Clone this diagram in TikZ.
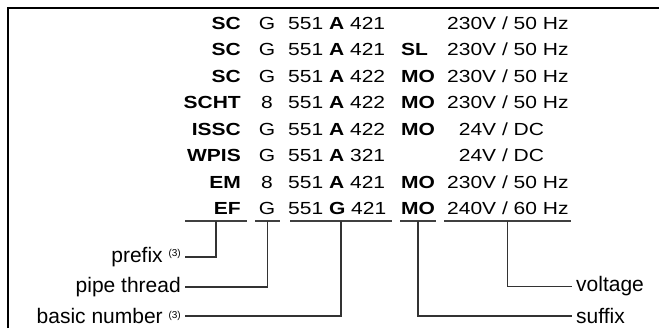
\documentclass[tikz,border=0pt]{standalone}
\usepackage{fontspec}
\setmainfont{Liberation Sans}
\newfontfamily\rowfont[FakeStretch=1.2]{Liberation Sans}
\usepackage{xcolor}
\usepackage{tikz}
\usetikzlibrary{positioning}

\newcommand{\rowsize}{\rowfont\fontsize{17.5bp}{19bp}\selectfont}
\newcommand{\volt}[2]{\llap{#1\ }/\rlap{\ #2}}
\newcommand{\fnote}{\raisebox{5.5bp}{\fontsize{10bp}{10bp}\selectfont(3)}}

\begin{document}
\begin{tikzpicture}[
    x=1bp, y=-1bp,
    cell/.style={inner sep=0pt, font=\rowsize},
    prefixcell/.style={cell, anchor=base east, font=\rowsize\bfseries},
    threadcell/.style={cell, anchor=base},
    basiccell/.style={cell, anchor=base west},
    suffixcell/.style={cell, anchor=base west, font=\rowsize\bfseries},
    voltcell/.style={cell, anchor=base},
    lbl/.style={inner sep=4bp, font=\fontsize{21bp}{23bp}\selectfont},
    uline/.style={draw=black!75, line width=1.3bp},
    conn/.style={draw=black!80, line width=1.3bp},
    frame/.style={draw=black, line width=2bp},
]
    \useasboundingbox (0,0) rectangle (659,328);
    \draw[frame] (8.3,328) |- (659,7.7);

    % code table
    \node[prefixcell] (pre1) at (241,29) {SC};
    \node[threadcell] (thr1) at (267,29) {G};
    \node[basiccell] (bas1) at (288,29) {551 \textbf{A} 421};
    \node[voltcell] (vol1) at (505,29) {\volt{230V}{50 Hz}};

    \node[prefixcell] (pre2) at (241,55.5) {SC};
    \node[threadcell] (thr2) at (267,55.5) {G};
    \node[basiccell] (bas2) at (288,55.5) {551 \textbf{A} 421};
    \node[suffixcell] (suf2) at (401,55.5) {SL};
    \node[voltcell] (vol2) at (505,55.5) {\volt{230V}{50 Hz}};

    \node[prefixcell] (pre3) at (241,82) {SC};
    \node[threadcell] (thr3) at (267,82) {G};
    \node[basiccell] (bas3) at (288,82) {551 \textbf{A} 422};
    \node[suffixcell] (suf3) at (401,82) {MO};
    \node[voltcell] (vol3) at (505,82) {\volt{230V}{50 Hz}};

    \node[prefixcell] (pre4) at (241,108.5) {SCHT};
    \node[threadcell] (thr4) at (267,108.5) {8};
    \node[basiccell] (bas4) at (288,108.5) {551 \textbf{A} 422};
    \node[suffixcell] (suf4) at (401,108.5) {MO};
    \node[voltcell] (vol4) at (505,108.5) {\volt{230V}{50 Hz}};

    \node[prefixcell] (pre5) at (241,135) {ISSC};
    \node[threadcell] (thr5) at (267,135) {G};
    \node[basiccell] (bas5) at (288,135) {551 \textbf{A} 422};
    \node[suffixcell] (suf5) at (401,135) {MO};
    \node[voltcell] (vol5) at (505,135) {\volt{24V}{DC}};

    \node[prefixcell] (pre6) at (241,161.5) {WPIS};
    \node[threadcell] (thr6) at (267,161.5) {G};
    \node[basiccell] (bas6) at (288,161.5) {551 \textbf{A} 321};
    \node[voltcell] (vol6) at (505,161.5) {\volt{24V}{DC}};

    \node[prefixcell] (pre7) at (241,188) {EM};
    \node[threadcell] (thr7) at (267,188) {8};
    \node[basiccell] (bas7) at (288,188) {551 \textbf{A} 421};
    \node[suffixcell] (suf7) at (401,188) {MO};
    \node[voltcell] (vol7) at (505,188) {\volt{230V}{50 Hz}};

    \node[prefixcell] (pre8) at (241,214.5) {EF};
    \node[threadcell] (thr8) at (267,214.5) {G};
    \node[basiccell] (bas8) at (288,214.5) {551 \textbf{G} 421};
    \node[suffixcell] (suf8) at (401,214.5) {MO};
    \node[voltcell] (vol8) at (505,214.5) {\volt{240V}{60 Hz}};

    % underlines
    \coordinate (upre) at (216,221);
    \coordinate (uthr) at (267.5,221);
    \coordinate (ubas) at (341,221);
    \coordinate (usuf) at (418,221);
    \coordinate (uvol) at (507.5,221);
    \draw[uline] ([xshift=-31bp]upre) -- ([xshift=31bp]upre);
    \draw[uline] ([xshift=-12.5bp]uthr) -- ([xshift=12.5bp]uthr);
    \draw[uline] ([xshift=-51bp]ubas) -- ([xshift=51bp]ubas);
    \draw[uline] ([xshift=-18bp]usuf) -- ([xshift=18bp]usuf);
    \draw[uline] ([xshift=-63.5bp]uvol) -- ([xshift=63.5bp]uvol);

    % labels
    \node[lbl, anchor=east] (lpre) at (185,257) {prefix \fnote};
    \node[lbl, anchor=east] (lthr) at (185,287) {pipe thread};
    \node[lbl, anchor=east] (lbas) at (185,316) {basic number \fnote};
    \node[lbl, anchor=west] (lvol) at (572,286.5) {voltage};
    \node[lbl, anchor=west] (lsuf) at (572,316) {suffix};

    \draw[conn] (upre) |- (lpre.east);
    \draw[conn] (uthr) |- (lthr.east);
    \draw[conn] (ubas) |- (lbas.east);
    \draw[conn] (usuf) |- (lsuf.west);
    \draw[conn] (uvol) |- (lvol.west);
\end{tikzpicture}
\end{document}
